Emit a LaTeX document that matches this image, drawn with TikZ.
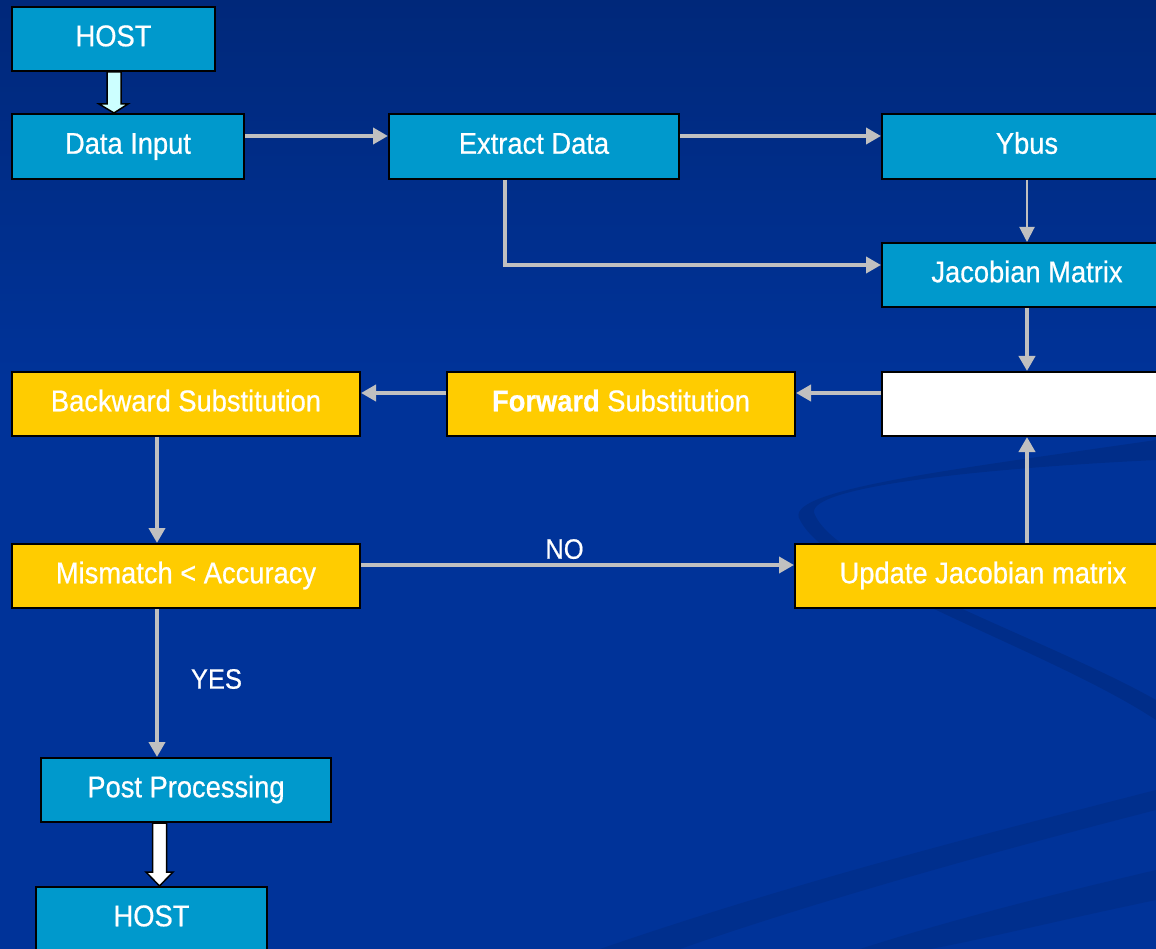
\documentclass[tikz,border=0pt]{standalone}
\usepackage{fontspec}
\setmainfont[FakeStretch=0.91,FakeBold=0.6]{Liberation Sans}
\usetikzlibrary{arrows.meta,calc}
\definecolor{bg}{HTML}{003399}
\definecolor{bgtop}{HTML}{00287A}
\definecolor{cyanbox}{HTML}{0099CC}
\definecolor{yellowbox}{HTML}{FFCC00}
\definecolor{arrgray}{HTML}{C0C0C0}
\definecolor{lightcyan}{HTML}{CCFFFF}
\tikzset{
  box/.style={draw=black, line width=2pt, inner sep=0pt, text=white,
    font=\fontsize{30}{36}\selectfont, text height=20.5pt, text depth=6pt},
  cbox/.style={box, fill=cyanbox},
  ybox/.style={box, fill=yellowbox},
  wbox/.style={box, fill=white},
  arr/.style={draw=arrgray, line width=4pt, -{Triangle[length=15pt,width=16pt]}},
  thinarr/.style={draw=arrgray, line width=2pt, -{Triangle[length=15pt,width=15pt]}},
  blockarr/.style={draw=black, line width=1.5pt, line join=miter},
  lbl/.style={text=white, font=\fontsize{28}{34}\selectfont, inner sep=0pt}
}
\begin{document}
\begin{tikzpicture}[x=1pt,y=-1pt]
\useasboundingbox (0,0) rectangle (1156,949);
\begin{scope}
\clip (0,0) rectangle (1156,949);
\fill[bg] (0,0) rectangle (1156,949);
\shade[top color=bgtop, bottom color=bg] (0,0) rectangle (1156,380);
% background swooshes
\fill[black, fill opacity=0.10] (1156,440) .. controls (950,470) and (780,490) .. (800,520)
  .. controls (830,580) and (1050,650) .. (1156,720) -- (1156,700)
  .. controls (1050,640) and (840,570) .. (815,515)
  .. controls (800,490) and (950,470) .. (1156,460) -- cycle;
\fill[black, fill opacity=0.08] (600,949) .. controls (800,880) and (1000,830) .. (1156,790)
  -- (1156,810) .. controls (1000,850) and (820,900) .. (680,949) -- cycle;
\fill[black, fill opacity=0.08] (860,949) .. controls (950,920) and (1050,895) .. (1156,870)
  -- (1156,900) .. controls (1060,920) and (980,940) .. (930,949) -- cycle;

% nodes
\node[cbox, minimum width=203pt, minimum height=64pt] (host1) at (113.5,39) {HOST};
\node[cbox, minimum width=232pt, minimum height=65pt] (datain) at (128,146.5) {Data Input};
\node[cbox, minimum width=290pt, minimum height=65pt] (extract) at (534,146.5) {Extract Data};
\node[cbox, minimum width=290pt, minimum height=65pt] (ybus) at (1027,146.5) {Ybus};
\node[cbox, minimum width=290pt, minimum height=64pt] (jac) at (1027,275) {Jacobian Matrix};
\node[wbox, minimum width=290pt, minimum height=64pt] (white) at (1027,404) {};
\node[ybox, minimum width=348pt, minimum height=64pt] (fwd) at (621,404) {\textbf{Forward} Substitution};
\node[ybox, minimum width=348pt, minimum height=64pt] (bwd) at (186,404) {Backward Substitution};
\node[ybox, minimum width=348pt, minimum height=64pt] (mis) at (186,576) {Mismatch < Accuracy};
\node[ybox, minimum width=376pt, minimum height=64pt] (upd) at (983,576) {Update Jacobian matrix};
\node[cbox, minimum width=290pt, minimum height=64pt] (post) at (186,790) {Post Processing};
\node[cbox, minimum width=231pt, minimum height=64pt] (host2) at (151.5,919) {HOST};

% helper coordinates
\coordinate (r1) at (0,136);
\coordinate (r2) at (0,265);
\coordinate (r3) at (0,393);
\coordinate (r4) at (0,565);
\coordinate (cx) at (1027,0);
\coordinate (ex) at (505,0);
\coordinate (bx) at (157,0);

% connectors
\draw[arr] (datain.east |- r1) -- (extract.west |- r1);
\draw[arr] (extract.east |- r1) -- (ybus.west |- r1);
\draw[thinarr] (ybus.south) -- (jac.north);
\draw[arr] (extract.south -| ex) -- (ex |- r2) -- (jac.west |- r2);
\draw[arr] (jac.south) -- (white.north);
\draw[arr] (white.west |- r3) -- (fwd.east |- r3);
\draw[arr] (fwd.west |- r3) -- (bwd.east |- r3);
\draw[arr] (bwd.south -| bx) -- (mis.north -| bx);
\draw[arr] (mis.east |- r4) -- node[lbl, above=4pt, pos=0.47] (no) {NO} (upd.west |- r4);
\draw[arr] (upd.north -| cx) -- (white.south);
\draw[arr] (mis.south -| bx) -- node[lbl, right=32pt, yshift=4pt] (yes) {YES} (post.north -| bx);

% block arrows
\draw[blockarr, fill=lightcyan]
  ($(host1.south)+(-6.5,0)$) -- ($(host1.south)+(7.5,0)$) -- ($(host1.south)+(7.5,32)$)
  -- ($(host1.south)+(14.5,32)$) -- ($(host1.south |- datain.north)+(0.5,0)$)
  -- ($(host1.south)+(-14.5,32)$) -- ($(host1.south)+(-6.5,32)$) -- cycle;
\coordinate (pa) at (159.5,0);
\draw[blockarr, fill=white]
  ($(post.south -| pa)+(-7,0)$) -- ($(post.south -| pa)+(7,0)$) -- ($(post.south -| pa)+(7,49)$)
  -- ($(post.south -| pa)+(13.5,49)$) -- (host2.north -| pa)
  -- ($(post.south -| pa)+(-13.5,49)$) -- ($(post.south -| pa)+(-7,49)$) -- cycle;
\end{scope}
\end{tikzpicture}
\end{document}
